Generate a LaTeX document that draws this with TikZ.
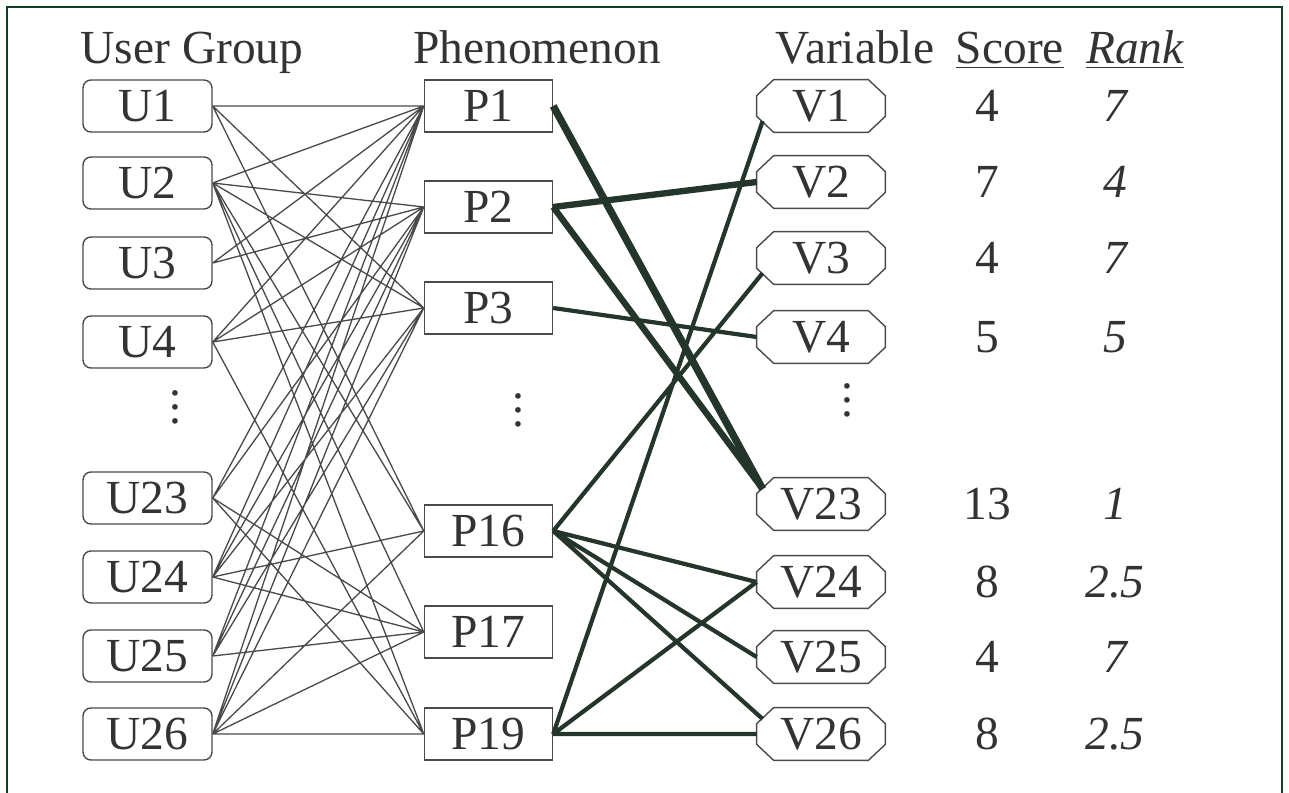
\documentclass[tikz,border=0pt]{standalone}
\usepackage{fontspec}
\setmainfont{Liberation Serif}
\definecolor{framegreen}{HTML}{123D26}
\definecolor{inkgray}{HTML}{4A4A4A}
\definecolor{linkdark}{HTML}{24362C}

\begin{document}
\begin{tikzpicture}[
      font=\fontsize{27}{30}\selectfont,
      text=black!80,
      group/.style={draw=inkgray, line width=0.8pt, rounded corners=0.16cm, minimum width=2.58cm, minimum height=1.04cm, inner sep=0pt},
      phen/.style={draw=inkgray, line width=0.8pt, minimum width=2.56cm, minimum height=1.04cm, inner sep=0pt},
      var/.style={minimum width=2.56cm, minimum height=1.04cm, inner sep=0pt,
        append after command={\pgfextra{\draw[inkgray, line width=0.8pt]
          ([xshift=0.34cm]\tikzlastnode.north west) -- ([xshift=-0.34cm]\tikzlastnode.north east)
          -- ([yshift=-0.32cm]\tikzlastnode.north east) -- ([yshift=0.32cm]\tikzlastnode.south east)
          -- ([xshift=-0.34cm]\tikzlastnode.south east) -- ([xshift=0.34cm]\tikzlastnode.south west)
          -- ([yshift=0.32cm]\tikzlastnode.south west) -- ([yshift=-0.32cm]\tikzlastnode.north west) -- cycle;}}},
      head/.style={anchor=base},
      more/.style={font=\fontsize{27}{8}\selectfont, align=center, inner sep=0pt},
      rank/.style={font=\fontsize{27}{30}\selectfont\itshape},
      link/.style={draw=inkgray, line width=0.75pt},
      bond/.style={draw=linkdark, line width=2.4pt},
      heavy/.style={draw=linkdark, line width=3.6pt},
  ]
    \useasboundingbox (0,0) rectangle (25.78,-15.86);
    \draw[framegreen, line width=1.2pt] (0.14,-15.86) -- (0.14,-0.14) -- (25.64,-0.14) -- (25.64,-15.86);

    \node[head] (hU) at (3.84,-1.28) {User Group};
    \node[head] (hP) at (10.74,-1.28) {Phenomenon};
    \node[head] (hV) at (17.1,-1.28) {Variable};
    \node[head] (hS) at (20.2,-1.28) {\underline{Score}};
    \node[head] (hR) at (22.7,-1.28) {\underline{\itshape Rank}};

    \node[group] (U1) at (2.95,-2.12) {U1};
    \node[group] (U2) at (2.95,-3.66) {U2};
    \node[group] (U3) at (2.95,-5.26) {U3};
    \node[group] (U4) at (2.95,-6.84) {U4};
    \node[more] (Ud) at (3.5,-8.14) {.\\.\\.};
    \node[group] (U23) at (2.95,-9.96) {U23};
    \node[group] (U24) at (2.95,-11.54) {U24};
    \node[group] (U25) at (2.95,-13.12) {U25};
    \node[group] (U26) at (2.95,-14.68) {U26};

    \node[phen] (P1) at (9.77,-2.12) {P1};
    \node[phen] (P2) at (9.77,-4.14) {P2};
    \node[phen] (P3) at (9.77,-6.16) {P3};
    \node[more] (Pd) at (10.36,-8.2) {.\\.\\.};
    \node[phen] (P16) at (9.77,-10.62) {P16};
    \node[phen] (P17) at (9.77,-12.64) {P17};
    \node[phen] (P19) at (9.77,-14.68) {P19};

    \node[var] (V1) at (16.42,-2.12) {V1};
    \node[var] (V2) at (16.42,-3.64) {V2};
    \node[var] (V3) at (16.42,-5.16) {V3};
    \node[var] (V4) at (16.42,-6.74) {V4};
    \node[more] (Vd) at (16.94,-8.0) {.\\.\\.};
    \node[var] (V23) at (16.42,-10.08) {V23};
    \node[var] (V24) at (16.42,-11.64) {V24};
    \node[var] (V25) at (16.42,-13.14) {V25};
    \node[var] (V26) at (16.42,-14.68) {V26};

    \node (S1) at (19.74,-2.12) {4};
    \node (S2) at (19.74,-3.64) {7};
    \node (S3) at (19.74,-5.16) {4};
    \node (S4) at (19.74,-6.74) {5};
    \node (S23) at (19.74,-10.08) {13};
    \node (S24) at (19.74,-11.64) {8};
    \node (S25) at (19.74,-13.14) {4};
    \node (S26) at (19.74,-14.68) {8};

    \node[rank] (R1) at (22.3,-2.12) {7};
    \node[rank] (R2) at (22.3,-3.64) {4};
    \node[rank] (R3) at (22.3,-5.16) {7};
    \node[rank] (R4) at (22.3,-6.74) {5};
    \node[rank] (R23) at (22.3,-10.08) {1};
    \node[rank] (R24) at (22.3,-11.64) {2.5};
    \node[rank] (R25) at (22.3,-13.14) {7};
    \node[rank] (R26) at (22.3,-14.68) {2.5};

    \path[link]
      (U1.east) -- (P1.west) (U1.east) -- (P3.west) (U1.east) -- (P16.west)
      (U2.east) -- (P1.west) (U2.east) -- (P2.west) (U2.east) -- (P3.west)
      (U2.east) -- (P16.west) (U2.east) -- (P17.west) (U2.east) -- (P19.west)
      (U3.east) -- (P1.west) (U3.east) -- (P2.west)
      (U4.east) -- (P1.west) (U4.east) -- (P2.west) (U4.east) -- (P3.west) (U4.east) -- (P19.west)
      (U23.east) -- (P1.west) (U23.east) -- (P2.west) (U23.east) -- (P17.west) (U23.east) -- (P19.west)
      (U24.east) -- (P1.west) (U24.east) -- (P2.west) (U24.east) -- (P3.west)
      (U24.east) -- (P16.west) (U24.east) -- (P17.west)
      (U25.east) -- (P1.west) (U25.east) -- (P2.west) (U25.east) -- (P3.west) (U25.east) -- (P17.west)
      (U26.east) -- (P1.west) (U26.east) -- (P2.west) (U26.east) -- (P3.west)
      (U26.east) -- (P16.west) (U26.east) -- (P17.west) (U26.east) -- (P19.west);

    \path[heavy, line width=4.2pt] (P1.east) -- ([xshift=0.12cm, yshift=0.3cm]V23.west);
    \path[heavy] (P2.east) -- (V2.west) (P2.east) -- ([xshift=0.12cm, yshift=0.3cm]V23.west);
    \path[bond]
      (P3.east) -- (V4.west)
      (P16.east) -- ([xshift=0.12cm, yshift=-0.3cm]V3.west) (P16.east) -- (V24.west)
      (P16.east) -- (V25.west) (P16.east) -- ([xshift=0.12cm, yshift=0.3cm]V26.west)
      (P19.east) -- ([xshift=0.12cm, yshift=-0.3cm]V1.west) (P19.east) -- (V24.west) (P19.east) -- (V26.west);
  \end{tikzpicture}
\end{document}
